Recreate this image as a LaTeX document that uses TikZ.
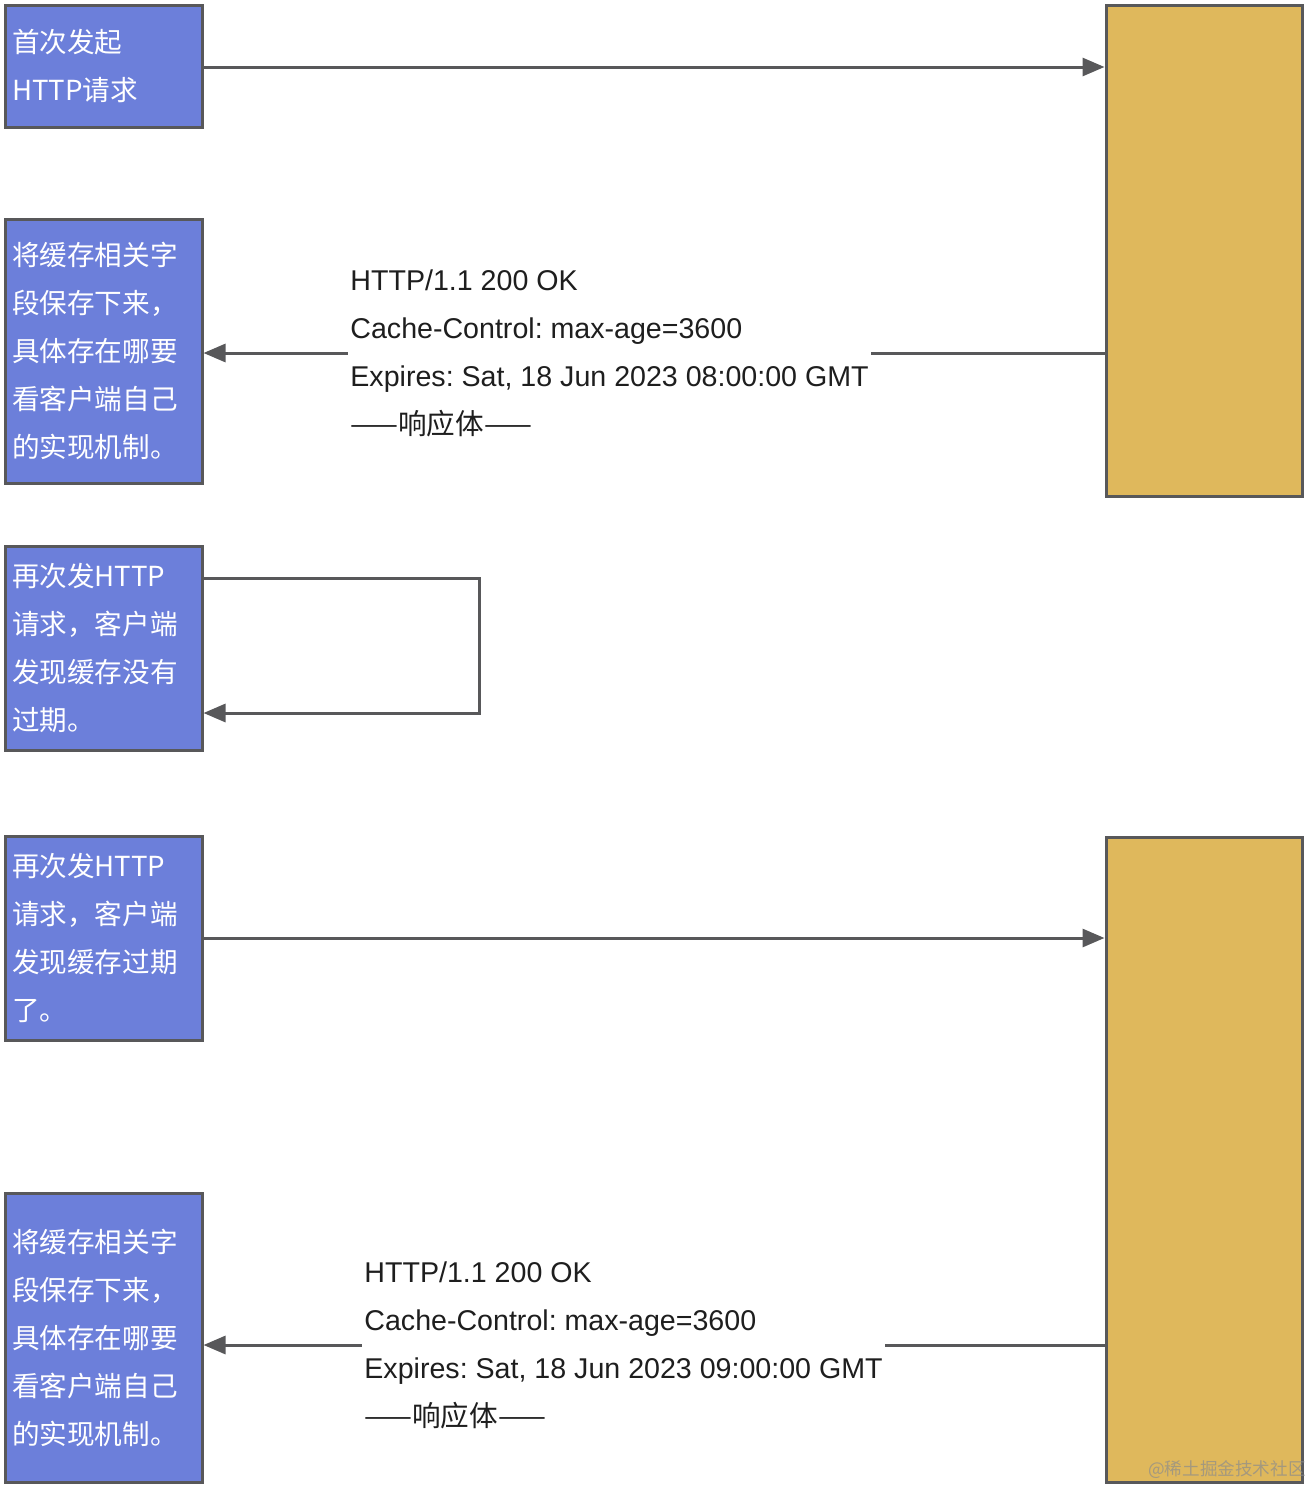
\documentclass[tikz,border=0pt]{standalone}
\usepackage{fontspec}
\setmainfont{Noto Sans CJK SC}
\newfontfamily\latinfont{Liberation Sans}
\usetikzlibrary{arrows.meta}
\definecolor{boxblue}{RGB}{108,127,218}
\definecolor{boxgold}{RGB}{223,184,92}
\definecolor{edge}{RGB}{88,88,90}
\definecolor{labeltext}{RGB}{30,30,30}
\frenchspacing
\begin{document}
\begin{tikzpicture}[x=0.5pt,y=-0.5pt,
  client/.style={draw=edge, fill=boxblue, line width=1.5pt, text=white, align=left,
    text width=91.5pt, inner xsep=3.5pt, inner ysep=0pt,
    font=\fontsize{13.8}{24}\selectfont, minimum width=98.5pt},
  server/.style={draw=edge, fill=boxgold, line width=1.5pt, minimum width=98pt, inner sep=0pt},
  conn/.style={draw=edge, line width=1.5pt, -{Triangle[length=11pt,width=9pt]}},
  msg/.style={fill=white, align=left, inner xsep=1pt, inner ysep=0pt, text=labeltext,
    font=\fontsize{14.3}{24}\selectfont\frenchspacing}]
\useasboundingbox (0,0) rectangle (1312,1488);
% client boxes
\node[client, minimum height=61pt] (c1) at (103.5,66) {首次发起\\HTTP请求};
\node[client, minimum height=132pt] (c2) at (103.5,351) {将缓存相关字\\段保存下来，\\具体存在哪要\\看客户端自己\\的实现机制。};
\node[client, minimum height=102pt] (c3) at (103.5,648) {再次发HTTP\\请求，客户端\\发现缓存没有\\过期。};
\node[client, minimum height=102pt] (c4) at (103.5,938) {再次发HTTP\\请求，客户端\\发现缓存过期\\了。};
\node[client, minimum height=144.5pt] (c5) at (103.5,1337.5) {将缓存相关字\\段保存下来，\\具体存在哪要\\看客户端自己\\的实现机制。};
% server boxes
\node[server, minimum height=245.5pt] (s1) at (1204,250.5) {};
\node[server, minimum height=322.5pt] (s2) at (1204,1159.5) {};
% helper coordinates
\coordinate (r1) at (0,67);
\coordinate (r2) at (0,353);
\coordinate (l1) at (479,578);
\coordinate (l2) at (479,713);
\coordinate (r4) at (0,938);
\coordinate (r5) at (0,1345);
% connectors
\draw[conn] (c1.east |- r1) -- (s1.west |- r1);
\draw[conn] (s1.west |- r2) -- (c2.east |- r2);
\draw[conn] (c3.east |- l1) -- (l1) -- (l2) -- (c3.east |- l2);
\draw[conn] (c4.east |- r4) -- (s2.west |- r4);
\draw[conn] (s2.west |- r5) -- (c5.east |- r5);
% labels
\node[msg, anchor=west] (m1) at (348,353) {{\latinfont HTTP/1.1 200 OK}\\{\latinfont Cache-Control: max-age=3600}\\{\latinfont Expires: Sat, 18 Jun 2023 08:00:00 GMT}\\——响应体——};
\node[msg, anchor=west] (m2) at (362,1345) {{\latinfont HTTP/1.1 200 OK}\\{\latinfont Cache-Control: max-age=3600}\\{\latinfont Expires: Sat, 18 Jun 2023 09:00:00 GMT}\\——响应体——};
% watermark
\node[text=black!45, opacity=0.7, font=\fontsize{8.8}{9}\selectfont, anchor=east, inner sep=0pt] (wm) at (1306,1470) {@稀土掘金技术社区};
\end{tikzpicture}
\end{document}
